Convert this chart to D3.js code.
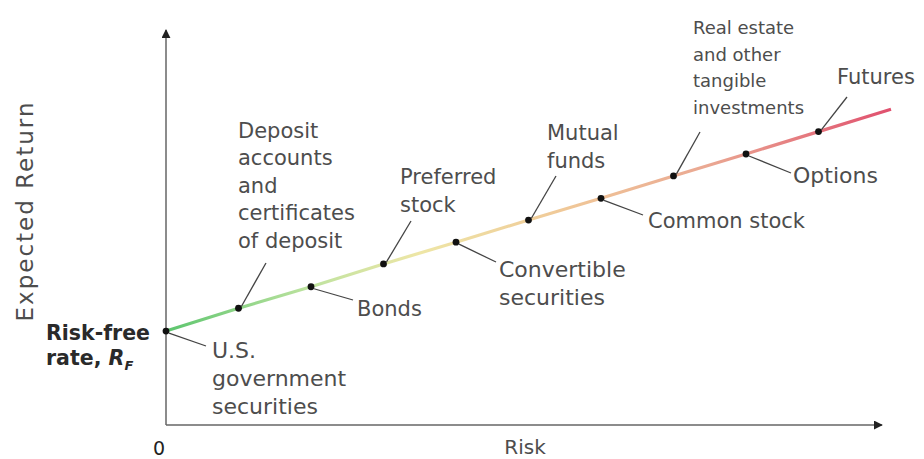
<!DOCTYPE html>
<html>
<head>
<meta charset="utf-8">
<script src="https://cdn.jsdelivr.net/npm/d3@7"></script>
<style>
  body { margin: 0; background: #fff; }
  svg { display: block; font-family: "DejaVu Sans", "Liberation Sans", sans-serif; }
  .lbl { fill: #4d4d4d; }
  .leader { stroke: #444; stroke-width: 1.3; }
</style>
</head>
<body>
<div id="chart"></div>
<script>
// ------------------------------------------
//  Data (risk step, expected return)
// ------------------------------------------
const risk = [0, 1, 2, 3, 4, 5, 6, 7, 8, 9]
const expReturn = [4.28, 5.32, 6.3, 7.34, 8.33, 9.34, 10.33, 11.35, 12.35, 13.37]
const lineEnd = [10, 14.39]

// label lines for each point
const labels = [
  ['U.S.', 'government', 'securities'],
  ['Deposit', 'accounts', 'and', 'certificates', 'of deposit'],
  ['Bonds'],
  ['Preferred', 'stock'],
  ['Convertible', 'securities'],
  ['Mutual', 'funds'],
  ['Common stock'],
  ['Real estate', 'and other', 'tangible', 'investments'],
  ['Options'],
  ['Futures']
]
// text box: left x, first line centre y, line step, size; leader end point
const layout = [
  { tx: 212, ty: 350, step: 28, fs: 22, lx: 206, ly: 346 },
  { tx: 238, ty: 130, step: 27.5, fs: 21, lx: 266, ly: 263 },
  { tx: 357, ty: 308, step: 27, fs: 21, lx: 353, ly: 300 },
  { tx: 400, ty: 176, step: 28, fs: 21, lx: 411, ly: 221 },
  { tx: 499, ty: 269, step: 28, fs: 22, lx: 496, ly: 262 },
  { tx: 547, ty: 132, step: 28, fs: 21, lx: 556, ly: 176 },
  { tx: 648, ty: 220, step: 27, fs: 21, lx: 643, ly: 215 },
  { tx: 693, ty: 28, step: 26.5, fs: 18, lx: 700, ly: 132 },
  { tx: 793, ty: 175, step: 27, fs: 22, lx: 791, ly: 173 },
  { tx: 837, ty: 76, step: 27, fs: 21, lx: 847, ly: 97 }
]

// ------------------------------------------
//  Chart
// ------------------------------------------
const W = 924, H = 459
const svg = d3.select('#chart').append('svg').attr('width', W).attr('height', H)

const x = d3.scaleLinear().domain([0, 10]).range([166, 891])
const y = d3.scaleLinear().domain([0, 18]).range([425, 30])

const defs = svg.append('defs')
const grad = defs.append('linearGradient').attr('id', 'riskGrad')
  .attr('gradientUnits', 'userSpaceOnUse')
  .attr('x1', x(0)).attr('x2', x(10)).attr('y1', y(expReturn[0])).attr('y2', y(lineEnd[1]))
grad.selectAll('stop')
  .data([[0, '#5cc56e'], [0.2, '#bfe3a0'], [0.35, '#eee6a6'], [0.55, '#f0c898'], [0.75, '#eaa792'], [1, '#e0506e']])
  .enter().append('stop')
  .attr('offset', d => d[0]).attr('stop-color', d => d[1])

defs.append('marker').attr('id', 'arrow')
  .attr('viewBox', '0 0 10 10').attr('refX', 9).attr('refY', 5)
  .attr('markerWidth', 9).attr('markerHeight', 9).attr('markerUnits', 'userSpaceOnUse')
  .attr('orient', 'auto')
  .append('path').attr('d', 'M0,0L10,5L0,10z').attr('fill', '#222')

// axes
svg.append('line')
  .attr('x1', x(0)).attr('y1', y(0)).attr('x2', x(0)).attr('y2', 30)
  .attr('stroke', '#666').attr('stroke-width', 1.5).attr('marker-end', 'url(#arrow)')
svg.append('line')
  .attr('x1', x(0)).attr('y1', y(0)).attr('x2', 882).attr('y2', y(0))
  .attr('stroke', '#666').attr('stroke-width', 1.5).attr('marker-end', 'url(#arrow)')

// risk/return line
const pts = risk.map((r, i) => [r, expReturn[i]]).concat([lineEnd])
svg.append('path')
  .datum(pts)
  .attr('fill', 'none')
  .attr('stroke', 'url(#riskGrad)')
  .attr('stroke-width', 3.2)
  .attr('d', d3.line().x(d => x(d[0])).y(d => y(d[1])))

// leaders
svg.selectAll('.leader')
  .data(risk)
  .enter().append('line')
  .attr('class', 'leader')
  .attr('x1', (d, i) => x(d) + (layout[i].lx > x(d) ? 3 : 0))
  .attr('y1', (d, i) => y(expReturn[i]) + (layout[i].ly > y(expReturn[i]) ? 2 : -2))
  .attr('x2', (d, i) => layout[i].lx)
  .attr('y2', (d, i) => layout[i].ly)

// points
svg.selectAll('.pt')
  .data(risk)
  .enter().append('circle')
  .attr('class', 'pt')
  .attr('cx', d => x(d))
  .attr('cy', (d, i) => y(expReturn[i]))
  .attr('r', 3.4)
  .attr('fill', '#111')

// labels
labels.forEach((lines, i) => {
  const t = svg.append('text').attr('class', 'lbl').attr('font-size', layout[i].fs)
  lines.forEach((s, j) => {
    t.append('tspan')
      .attr('x', layout[i].tx)
      .attr('y', layout[i].ty + j * layout[i].step)
      .attr('dy', '0.36em')
      .text(s)
  })
})

// risk-free label
const rf = svg.append('text').attr('font-weight', 'bold').attr('font-size', 20.5).attr('fill', '#2a2a2a')
rf.append('tspan').attr('x', 46).attr('y', 333).attr('dy', '0.36em').text('Risk-free')
rf.append('tspan').attr('x', 46).attr('y', 358).attr('dy', '0.36em').text('rate, ')
rf.append('tspan').attr('font-style', 'italic').text('R')
rf.append('tspan').attr('font-style', 'italic').attr('font-size', 13).attr('dy', 5).text('F')

// axis titles
svg.append('text')
  .attr('transform', 'translate(25,211) rotate(-90)')
  .attr('text-anchor', 'middle').attr('dy', '0.36em')
  .attr('font-size', 23).attr('letter-spacing', 2)
  .attr('class', 'lbl').attr('fill', '#5a5a5a')
  .text('Expected Return')
svg.append('text')
  .attr('x', 525).attr('y', 447).attr('dy', '0.36em')
  .attr('text-anchor', 'middle').attr('font-size', 20).attr('class', 'lbl')
  .text('Risk')
svg.append('text')
  .attr('x', 159).attr('y', 448).attr('dy', '0.36em')
  .attr('text-anchor', 'middle').attr('font-size', 19).attr('fill', '#222')
  .text('0')
</script>
</body>
</html>
